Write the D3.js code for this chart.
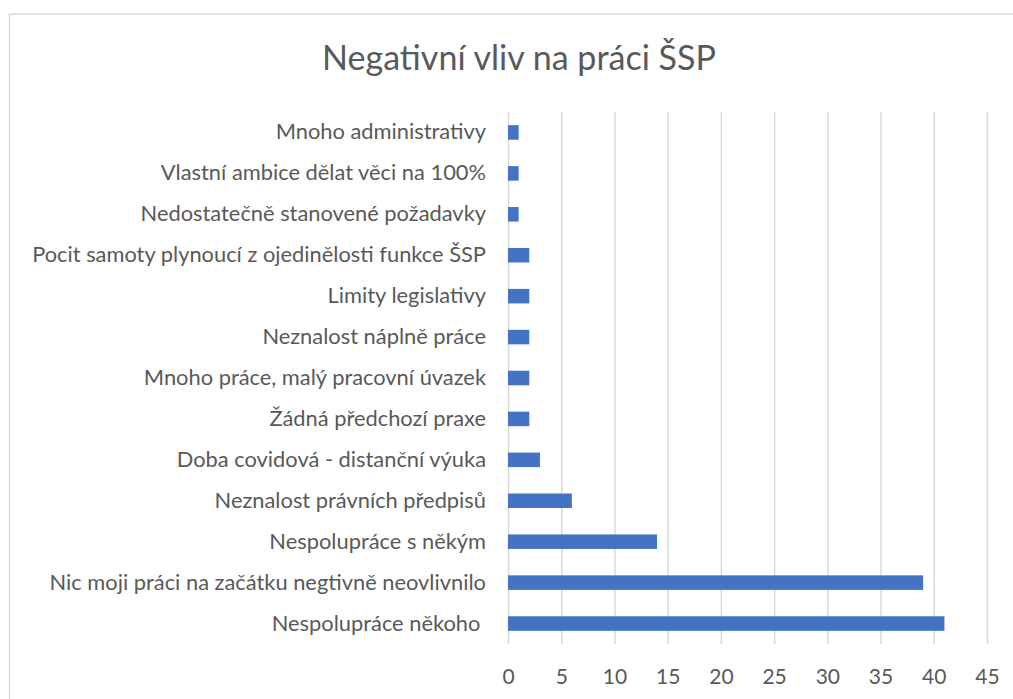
<!DOCTYPE html>
<html><head><meta charset="utf-8">
<script src="https://cdn.jsdelivr.net/npm/d3@7"></script>
<style>body{margin:0;background:#fff}svg{display:block}</style>
</head><body>
<script>
const categories = [
  "Mnoho administrativy",
  "Vlastní ambice dělat věci na 100%",
  "Nedostatečně stanovené požadavky",
  "Pocit samoty plynoucí z ojedinělosti funkce ŠSP",
  "Limity legislativy",
  "Neznalost náplně práce",
  "Mnoho práce, malý pracovní úvazek",
  "Žádná předchozí praxe",
  "Doba covidová - distanční výuka",
  "Neznalost právních předpisů",
  "Nespolupráce s někým",
  "Nic moji práci na začátku negtivně neovlivnilo",
  "Nespolupráce někoho "
];
const values = [1,1,1,2,2,2,2,2,3,6,14,39,41];
const xTicks = [0,5,10,15,20,25,30,35,40,45];
const title = "Negativní vliv na práci ŠSP";

const W = 1013, H = 699;
const font = "Lato, 'Open Sans', sans-serif";
const svg = d3.select("body").append("svg").attr("width", W).attr("height", H);

svg.append("rect").attr("x",9.5).attr("y",14).attr("width",W+20).attr("height",H+20)
  .attr("fill","#fff").attr("stroke","#d9d9d9").attr("stroke-width",1.5);

const x = d3.scaleLinear().domain([0,45]).range([508,987]);
const y = d3.scaleBand().domain(categories).range([112,644]).paddingInner(0.645).paddingOuter(0.3225);

const xAxis = svg.append("g").attr("transform","translate(0,644)")
  .call(d3.axisBottom(x).tickValues(xTicks).tickSize(-532).tickPadding(20));
xAxis.select(".domain").remove();
xAxis.selectAll("line").attr("stroke","#d9d9d9").attr("stroke-width",1.5);
xAxis.selectAll("text").attr("fill","#595959").style("font-family",font).style("font-size","21px")
  .attr("dy","0.32em").attr("y",33);

const yAxis = svg.append("g").attr("transform","translate(508,0)")
  .call(d3.axisLeft(y).tickSize(0).tickPadding(22));
yAxis.select(".domain").remove();
const yt = yAxis.selectAll("text").attr("fill","#595959").style("font-family",font)
  .style("font-size","20px").style("white-space","pre");
// fit font so longest label spans ~454px like the reference
let maxW = 0; yt.each(function(){ maxW = Math.max(maxW, this.getComputedTextLength()); });
yt.style("font-size", (20*454/maxW).toFixed(2)+"px");

svg.append("g").selectAll("rect").data(values).join("rect")
  .attr("x", x(0))
  .attr("y", (d,i)=>y(categories[i]))
  .attr("width", d=>x(d)-x(0))
  .attr("height", y.bandwidth())
  .attr("fill","#4472c4");

const t = svg.append("text").attr("x",519).attr("y",70).attr("text-anchor","middle")
  .attr("fill","#595959").style("font-family",font).style("font-size","32px").text(title);
const tw = t.node().getComputedTextLength();
t.style("font-size", (32*394/tw).toFixed(2)+"px");
</script>
</body></html>
